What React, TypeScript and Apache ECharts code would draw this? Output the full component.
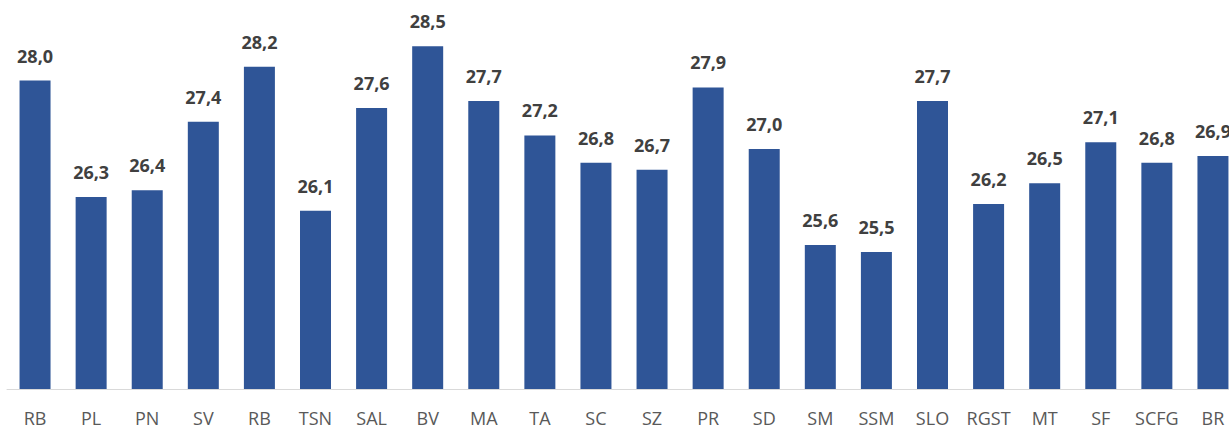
import React, { useEffect, useRef } from "react";
import * as echarts from "echarts";

const categories = ["RB", "PL", "PN", "SV", "RB", "TSN", "SAL", "BV", "MA", "TA", "SC", "SZ", "PR", "SD", "SM", "SSM", "SLO", "RGST", "MT", "SF", "SCFG", "BR"];
const values = [28.0, 26.3, 26.4, 27.4, 28.2, 26.1, 27.6, 28.5, 27.7, 27.2, 26.8, 26.7, 27.9, 27.0, 25.6, 25.5, 27.7, 26.2, 26.5, 27.1, 26.8, 26.9];

export default function App() {
  const ref = useRef<HTMLDivElement>(null);
  useEffect(() => {
    if (!ref.current) return;
    const chart = echarts.init(ref.current, null, { renderer: "svg" });
    chart.setOption({
      animation: false,
      backgroundColor: "#ffffff",
      grid: { left: 7, right: 0, top: 12, bottom: 40, containLabel: false, outerBoundsMode: "none" },
      xAxis: {
        type: "category",
        data: categories,
        axisLine: { show: true, lineStyle: { color: "#d9d9d9", width: 1 } },
        axisTick: { show: false },
        axisLabel: { color: "#595959", fontSize: 18, fontFamily: "Open Sans", margin: 20, interval: 0 },
      },
      yAxis: {
        type: "value",
        min: 23.5,
        max: 29,
        show: false,
        splitLine: { show: false },
      },
      series: [
        {
          type: "bar",
          data: values,
          barWidth: 31,
          itemStyle: { color: "#2f5597" },
          label: {
            show: true,
            position: "top",
            distance: 16,
            color: "#404040",
            fontSize: 18,
            fontWeight: "bold",
            fontFamily: "Open Sans",
            formatter: (p: any) => Number(p.value).toFixed(1).replace(".", ","),
          },
        },
      ],
    });
    return () => chart.dispose();
  }, []);
  return (
    <div style={{ position: "absolute", left: 0, top: 0, width: 1229, height: 429, overflow: "hidden", background: "#fff" }}>
      <div ref={ref} style={{ width: 1241, height: 429 }} />
    </div>
  );
}
